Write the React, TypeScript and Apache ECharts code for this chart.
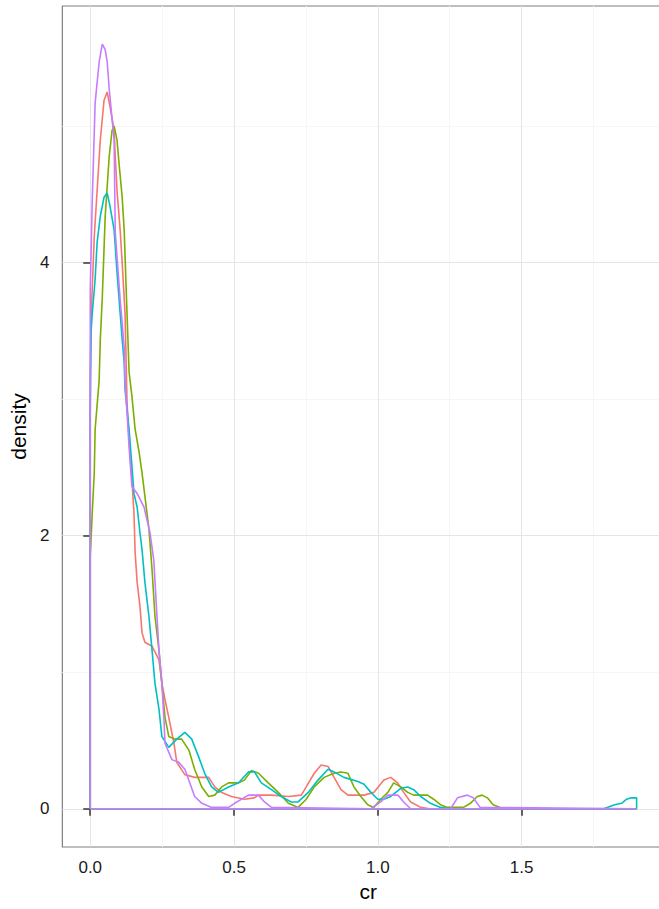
import React, { useEffect, useRef } from "react";
import * as echarts from "echarts";

// x positions where the density outlines end (shared range of all groups)
const X_END = 1.9;

const xTickValues = [0, 0.5, 1.0, 1.5];
const xMinorValues = [0.25, 0.75, 1.25, 1.75];
const yTickValues = [0, 2, 4];
const yMinorValues = [1, 3, 5];

const seriesColors = ["#F8766D", "#7CAE00", "#00BFC4", "#C77CFF"];
const seriesNames = ["a", "b", "c", "d"];

const redDensity: [number, number][] = [
  [0, 3.2], [0.003, 3.6], [0.014, 4.19], [0.024, 4.53], [0.035, 4.9], [0.048, 5.19], [0.059, 5.25],
  [0.069, 5.14], [0.083, 4.97], [0.087, 4.78], [0.093, 4.53], [0.104, 4.24], [0.111, 4.0], [0.121, 3.63],
  [0.128, 2.97], [0.138, 2.61], [0.145, 2.41], [0.152, 2.17], [0.156, 1.88], [0.163, 1.66], [0.173, 1.48],
  [0.18, 1.29], [0.19, 1.22], [0.215, 1.19], [0.239, 1.09], [0.249, 0.92], [0.26, 0.8], [0.273, 0.67],
  [0.291, 0.48], [0.301, 0.34], [0.329, 0.25], [0.363, 0.23], [0.412, 0.23], [0.433, 0.16], [0.457, 0.12],
  [0.491, 0.09], [0.536, 0.07], [0.571, 0.08], [0.585, 0.1], [0.63, 0.1], [0.689, 0.09], [0.734, 0.1],
  [0.751, 0.16], [0.779, 0.26], [0.803, 0.32], [0.827, 0.31], [0.848, 0.23], [0.872, 0.14], [0.896, 0.1],
  [0.952, 0.1], [0.986, 0.12], [1.021, 0.21], [1.045, 0.23], [1.069, 0.19], [1.09, 0.12], [1.114, 0.05],
  [1.149, 0.01], [1.18, 0], [X_END, 0],
];

const greenDensity: [number, number][] = [
  [0, 1.85], [0.007, 2.17], [0.014, 2.46], [0.017, 2.78], [0.031, 3.14], [0.035, 3.44], [0.042, 3.75],
  [0.052, 4.34], [0.066, 4.78], [0.076, 4.97], [0.083, 5.0], [0.093, 4.9], [0.1, 4.73], [0.111, 4.48],
  [0.118, 4.24], [0.125, 3.8], [0.135, 3.2], [0.145, 3.02], [0.156, 2.78], [0.17, 2.61], [0.18, 2.46],
  [0.19, 2.29], [0.204, 2.05], [0.215, 1.75], [0.225, 1.41], [0.239, 1.16], [0.249, 0.92], [0.26, 0.67],
  [0.273, 0.53], [0.294, 0.51], [0.318, 0.51], [0.343, 0.43], [0.363, 0.29], [0.388, 0.16], [0.412, 0.09],
  [0.433, 0.1], [0.457, 0.16], [0.481, 0.19], [0.516, 0.19], [0.536, 0.21], [0.561, 0.28], [0.585, 0.26],
  [0.619, 0.19], [0.654, 0.12], [0.689, 0.04], [0.723, 0.01], [0.751, 0.07], [0.779, 0.16], [0.813, 0.23],
  [0.848, 0.26], [0.872, 0.27], [0.896, 0.26], [0.917, 0.16], [0.941, 0.09], [0.965, 0.03], [0.986, 0.01],
  [1.01, 0.07], [1.035, 0.12], [1.055, 0.19], [1.08, 0.16], [1.104, 0.12], [1.125, 0.1], [1.173, 0.1],
  [1.194, 0.07], [1.218, 0.03], [1.242, 0.01], [1.298, 0.01], [1.322, 0.04], [1.346, 0.09], [1.363, 0.1],
  [1.381, 0.08], [1.401, 0.03], [1.436, 0], [X_END, 0],
];

const cyanDensity: [number, number][] = [
  [0, 2.9], [0.003, 3.5], [0.007, 3.63], [0.014, 3.8], [0.017, 3.88], [0.024, 4.15], [0.035, 4.34],
  [0.048, 4.48], [0.059, 4.51], [0.069, 4.41], [0.083, 4.24], [0.087, 4.12], [0.093, 3.93], [0.111, 3.44],
  [0.118, 3.27], [0.121, 3.07], [0.135, 2.78], [0.145, 2.51], [0.152, 2.31], [0.163, 2.21], [0.173, 2.02],
  [0.18, 1.9], [0.19, 1.66], [0.204, 1.41], [0.215, 1.16], [0.225, 0.92], [0.239, 0.73], [0.249, 0.53],
  [0.273, 0.45], [0.301, 0.51], [0.329, 0.56], [0.353, 0.51], [0.377, 0.38], [0.398, 0.26], [0.422, 0.16],
  [0.446, 0.12], [0.481, 0.16], [0.516, 0.19], [0.55, 0.27], [0.571, 0.27], [0.595, 0.19], [0.63, 0.14],
  [0.664, 0.09], [0.699, 0.05], [0.723, 0.05], [0.758, 0.12], [0.792, 0.21], [0.827, 0.29], [0.848, 0.27],
  [0.882, 0.23], [0.931, 0.2], [0.952, 0.18], [0.976, 0.12], [1.0, 0.07], [1.021, 0.07], [1.045, 0.09],
  [1.08, 0.15], [1.104, 0.16], [1.125, 0.14], [1.149, 0.09], [1.183, 0.04], [1.218, 0.01], [1.25, 0],
  [1.785, 0], [1.824, 0.03], [1.848, 0.04], [1.865, 0.07], [1.882, 0.08], [X_END, 0.08],
];

const purpleDensity: [number, number][] = [
  [0, 3.8], [0.007, 4.46], [0.017, 5.17], [0.031, 5.47], [0.042, 5.6], [0.052, 5.56], [0.059, 5.47],
  [0.066, 5.27], [0.076, 5.05], [0.083, 4.9], [0.087, 4.22], [0.104, 3.73], [0.111, 3.56], [0.118, 3.38],
  [0.121, 3.14], [0.128, 2.9], [0.135, 2.65], [0.145, 2.36], [0.163, 2.31], [0.187, 2.21], [0.208, 2.02],
  [0.221, 1.82], [0.232, 1.41], [0.239, 1.16], [0.249, 0.92], [0.256, 0.67], [0.26, 0.48], [0.284, 0.36],
  [0.308, 0.34], [0.329, 0.29], [0.346, 0.19], [0.363, 0.09], [0.388, 0.04], [0.422, 0.01], [0.481, 0.01],
  [0.502, 0.04], [0.55, 0.1], [0.585, 0.1], [0.606, 0.05], [0.63, 0.01], [0.976, 0.0], [1.01, 0.05],
  [1.035, 0.1], [1.07, 0.1], [1.09, 0.05], [1.114, 0.0], [1.253, 0.0], [1.277, 0.08], [1.311, 0.1],
  [1.332, 0.08], [1.356, 0.01], [X_END, 0],
];

const groups = [redDensity, greenDensity, cyanDensity, purpleDensity];

// closed outline like geom_density with no fill: up the left edge, along the curve, down and back along 0
function outline(pts: [number, number][]): [number, number][] {
  const x0 = pts[0][0];
  const x1 = pts[pts.length - 1][0];
  return [[x0, 0], ...pts, [x1, 0], [x0, 0]];
}

const FONT = "'Liberation Sans', Arial, Helvetica, sans-serif";

export default function App() {
  const ref = useRef<HTMLDivElement>(null);
  useEffect(() => {
    if (!ref.current) return;
    const chart = echarts.init(ref.current, undefined, { renderer: "svg" });
    const tickLabel = { color: "#1a1a1a", fontSize: 17, fontFamily: FONT };
    const option: any = {
      animation: false,
      backgroundColor: "#ffffff",
      grid: {
        left: 60,
        top: 6,
        right: 26,
        bottom: 62,
        show: true,
        borderColor: "#7f7f7f",
        borderWidth: 1.2,
        backgroundColor: "transparent",
        containLabel: false,
      },
      xAxis: [
        {
          type: "value",
          position: "bottom",
          offset: 0,
          min: -0.097,
          max: 2.03,
          axisLine: { show: false },
          axisTick: { show: false, customValues: xMinorValues },
          axisLabel: { show: false, customValues: xMinorValues },
          splitLine: { show: true, lineStyle: { color: "#f6f6f6", width: 1 } },
          z: 0,
        },
        {
          type: "value",
          position: "bottom",
          offset: 0,
          min: -0.097,
          max: 2.03,
          name: "cr",
          nameLocation: "middle",
          nameGap: 27,
          nameTextStyle: { color: "#000", fontSize: 21, fontFamily: FONT },
          axisLine: { show: false },
          axisTick: {
            show: true,
            customValues: xTickValues,
            inside: false,
            length: 7,
            lineStyle: { color: "#333", width: 1.5 },
          },
          axisLabel: {
            ...tickLabel,
            margin: 12,
            customValues: xTickValues,
            formatter: (v: number) => v.toFixed(1),
          },
          splitLine: { show: true, lineStyle: { color: "#e5e5e5", width: 1 } },
          z: 1,
        },
      ],
      yAxis: [
        {
          type: "value",
          position: "left",
          offset: 0,
          min: -0.28,
          max: 5.88,
          axisLine: { show: false },
          axisTick: { show: false, customValues: yMinorValues },
          axisLabel: { show: false, customValues: yMinorValues },
          splitLine: { show: true, lineStyle: { color: "#f6f6f6", width: 1 } },
          z: 0,
        },
        {
          type: "value",
          position: "left",
          offset: 0,
          min: -0.28,
          max: 5.88,
          name: "density",
          nameLocation: "middle",
          nameGap: 28,
          nameRotate: 90,
          nameTextStyle: { color: "#000", fontSize: 21, fontFamily: FONT },
          axisLine: { show: false },
          axisTick: {
            show: true,
            customValues: yTickValues,
            inside: false,
            length: 7,
            lineStyle: { color: "#333", width: 1.5 },
          },
          axisLabel: { ...tickLabel, margin: 13, customValues: yTickValues },
          splitLine: { show: true, lineStyle: { color: "#e5e5e5", width: 1 } },
          z: 1,
        },
      ],
      series: groups.map((g, i) => ({
        type: "line",
        name: seriesNames[i],
        xAxisIndex: 1,
        yAxisIndex: 1,
        data: outline(g),
        showSymbol: false,
        symbol: "none",
        smooth: false,
        clip: true,
        lineStyle: { color: seriesColors[i], width: 1.6 },
        itemStyle: { color: seriesColors[i] },
        z: 2 + i,
      })),
    };
    chart.setOption(option);
    return () => chart.dispose();
  }, []);
  return (
    <div
      style={{
        position: "fixed",
        left: 0,
        top: 0,
        width: 659,
        height: 909,
        overflow: "hidden",
        background: "#fff",
      }}
    >
      <div ref={ref} style={{ width: 700, height: 909 }} />
    </div>
  );
}
